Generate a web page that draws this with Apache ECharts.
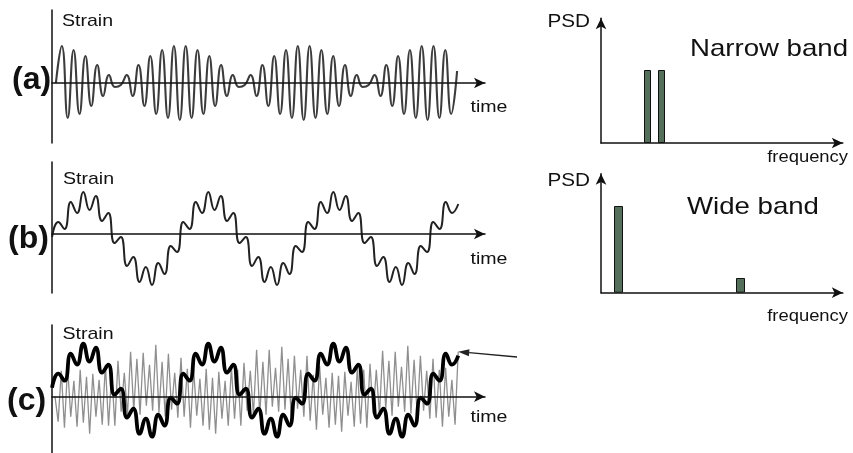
<!DOCTYPE html>
<html><head><meta charset="utf-8">
<script src="https://cdn.jsdelivr.net/npm/echarts@6/dist/echarts.min.js"></script>
<style>html,body{margin:0;padding:0;background:#fff}#c{width:853px;height:453px}</style>
</head><body><div id="c"></div><script>
// ---------- DATA ----------
// (a) narrow-band strain: successive extremes (arbitrary strain units)
const strainA = [0,37,-35,33,-31,27,-23,18,-13,8,-4,-2,8,-13,18,-23,27,-31,33,-35,37,-37,37,-35,33,-31,27,-23,18,-13,8,-4,-2,8,-13,18,-23,27,-31,33,-35,37,-37,37,-35,33,-31,27,-23,18,-13,8,-4,-2,8,-13,18,-23,27,-31,33,-35,37,-37,37,-35,33,-31,12];
// (b) wide-band strain
const strainB = [-3,12,5,32,21,42,24,38,13,21,-9,-3,-32,-23,-48,-33,-51,-29,-40,-12,
  -18,12,5,32,21,42,24,38,13,21,-9,-3,-32,-23,-48,-33,-51,-29,-40,-12,
  -18,12,5,32,21,42,24,38,13,21,-9,-3,-32,-23,-48,-33,-51,-29,-40,-12,
  -18,12,5,32,21,30];
// (c) bold slow component
const strainCSlow = [9,23,16,43,32,53,35,49,24,32,2,8,-21,-12,-37,-22,-40,-18,-29,-1,
  -7,23,16,43,32,53,35,49,24,32,2,8,-21,-12,-37,-22,-40,-18,-29,-1,
  -7,23,16,43,32,53,35,49,24,32,2,8,-21,-12,-37,-22,-40,-18,-29,-1,
  -7,23,16,43,32,41];
// (c) grey fast component
const strainCFast = [0,-25,26,-31,30,-20,16,-30,27,-26,20,-37,23,-20,17,-28,32,-29,25,-29,36,-15,24,-19,45,-14,38,-18,44,-9,32,-14,52,-16,35,-20,43,-13,24,-21,
  39,-20,28,-31,28,-19,18,-29,28,-33,19,-37,25,-22,16,-29,30,-22,27,-29,34,-14,26,-18,47,-18,35,-18,47,-10,29,-15,50,-13,38,-20,41,-12,27,-20,
  41,-24,22,-33,31,-18,19,-31,24,-28,21,-35,25,-19,15,-30,30,-27,27,-31,33,-17,27,-18,46,-12,36,-19,45,-10,30,-15,51,-17,37,-19,41,-14,26,-22,
  38,-21,27,-30,29,-20,17,-28,45];
// sampling of each trace along the time axis
const sampleStart = { a: 3.9, b: 0.05, cSlow: 0.05, cFast: 3 };
const sampleStep  = { a: 5.9, b: 6.25, cSlow: 6.25, cFast: 3.15 };
// PSD bars
const narrowFreq = [46.5, 60.5];
const narrowPSD  = [73, 73];
const wideFreq   = [17.5, 139.5];
const widePSD    = [86.7, 14.7];
// texts
const panelNames = ['(a)', '(b)', '(c)'];
const strainName = 'Strain';
const timeName = 'time';
const psdName = 'PSD';
const freqName = 'frequency';
const bandNames = ['Narrow band', 'Wide band'];

// ---------- CHART ----------
const chart = echarts.init(document.getElementById('c'), null, {renderer: 'canvas'});
const toPairs = (vals, key) => vals.map((v, i) => [sampleStart[key] + i * sampleStep[key], v]);
const FONT = '"Liberation Sans", Arial, sans-serif';
const axisColor = '#111';

const leftGrids = [
  {left: 52, top: 10, width: 433, height: 133},
  {left: 52, top: 162, width: 433, height: 131},
  {left: 52, top: 325, width: 433, height: 128}
];
const leftY = [[-60, 73], [-59, 72], [-56.3, 71.7]];
const rightGrids = [
  {left: 601, top: 18.2, width: 241.8, height: 124.8},
  {left: 601, top: 173.8, width: 241.8, height: 118.9}
];

const grids = leftGrids.concat(rightGrids);
const xAxes = [], yAxes = [];
leftGrids.forEach((g, i) => {
  xAxes.push({gridIndex: i, type: 'value', min: 0, max: 433,
    axisLine: {show: true, onZero: true, symbol: ['none', 'arrow'], symbolSize: [8, 11],
      lineStyle: {color: axisColor, width: 1.5}},
    axisTick: {show: false}, axisLabel: {show: false}, splitLine: {show: false}, z: 5});
  yAxes.push({gridIndex: i, type: 'value', min: leftY[i][0], max: leftY[i][1],
    axisLine: {show: true, onZero: true, lineStyle: {color: axisColor, width: 1.5}},
    axisTick: {show: false}, axisLabel: {show: false}, splitLine: {show: false}});
});
rightGrids.forEach((g, j) => {
  const i = j + 3;
  xAxes.push({gridIndex: i, type: 'value', min: 0, max: 241.8,
    axisLine: {show: true, onZero: true, symbol: ['none', 'arrow'], symbolSize: [8, 11],
      lineStyle: {color: axisColor, width: 1.5}},
    axisTick: {show: false}, axisLabel: {show: false}, splitLine: {show: false}});
  yAxes.push({gridIndex: i, type: 'value', min: 0, max: g.height,
    axisLine: {show: true, onZero: true, symbol: ['none', 'arrow'], symbolSize: [8, 11],
      lineStyle: {color: axisColor, width: 1.5}},
    axisTick: {show: false}, axisLabel: {show: false}, splitLine: {show: false}});
});

const barStyle = {color: '#55705a', borderColor: '#111', borderWidth: 1};
const series = [
  {type: 'line', xAxisIndex: 0, yAxisIndex: 0, data: toPairs(strainA, 'a'), smooth: 0.5,
   showSymbol: false, lineStyle: {color: '#3c3c3c', width: 2.1}, z: 2},
  {type: 'line', xAxisIndex: 1, yAxisIndex: 1, data: toPairs(strainB, 'b'), smooth: 0.5,
   showSymbol: false, lineStyle: {color: '#222', width: 2}, z: 2},
  {type: 'line', xAxisIndex: 2, yAxisIndex: 2, data: toPairs(strainCFast, 'cFast'), smooth: false,
   showSymbol: false, lineStyle: {color: '#8f8f8f', width: 1.3}, z: 2},
  {type: 'line', xAxisIndex: 2, yAxisIndex: 2, data: toPairs(strainCSlow, 'cSlow'), smooth: 0.5,
   showSymbol: false, lineStyle: {color: '#000', width: 3.8}, z: 3},
  {type: 'bar', xAxisIndex: 3, yAxisIndex: 3, data: narrowFreq.map((f, i) => [f, narrowPSD[i]]),
   barWidth: 7, itemStyle: barStyle},
  {type: 'bar', xAxisIndex: 4, yAxisIndex: 4, data: wideFreq.map((f, i) => [f, widePSD[i]]),
   barWidth: 9, itemStyle: barStyle}
];

chart.setOption({
  animation: false,
  backgroundColor: '#fff',
  grid: grids, xAxis: xAxes, yAxis: yAxes, series: series
});

// ---------- TEXT + ARROW ----------
function txt(text, x, y, size, opts) {
  opts = opts || {};
  return {type: 'text', x: x, y: y, scaleX: opts.scaleX == null ? 1.15 : opts.scaleX, z: 20,
    style: {text: text, fill: '#111', fontSize: size, fontFamily: FONT,
      fontWeight: opts.bold ? 'bold' : 'normal', align: opts.align || 'left', verticalAlign: 'middle'}};
}
const g = [
  txt(strainName, 62, 21, 17), txt(strainName, 63, 179.5, 17), txt(strainName, 62.5, 334.5, 17),
  txt(timeName, 470.5, 107, 17), txt(timeName, 470.5, 259.5, 17), txt(timeName, 470.5, 417.7, 17),
  txt(panelNames[0], 12, 80, 32, {bold: true, scaleX: 1}),
  txt(panelNames[1], 8, 239, 32, {bold: true, scaleX: 1}),
  txt(panelNames[2], 7, 401, 32, {bold: true, scaleX: 1}),
  txt(psdName, 590, 22, 18, {align: 'right'}), txt(psdName, 590, 181, 18, {align: 'right'}),
  txt(bandNames[0], 690, 49, 24), txt(bandNames[1], 687, 207, 24),
  txt(freqName, 848, 158, 16, {align: 'right'}), txt(freqName, 848, 317, 16, {align: 'right'})
];
// arrow pointing at the end of trace (c)
const lastIdx = strainCFast.length - 1;
const tip = chart.convertToPixel({gridIndex: 2},
  [sampleStart.cFast + lastIdx * sampleStep.cFast, strainCFast[lastIdx]]);
const tail = [517, 357];
const dx = tail[0] - tip[0], dy = tail[1] - tip[1], len = Math.hypot(dx, dy);
const ux = dx / len, uy = dy / len, hl = 11, hw = 3.5;
const base = [tip[0] + ux * hl, tip[1] + uy * hl];
g.push({type: 'line', z: 20, shape: {x1: base[0], y1: base[1], x2: tail[0], y2: tail[1]},
  style: {stroke: '#222', lineWidth: 1.3}});
g.push({type: 'polygon', z: 20, shape: {points: [tip,
  [base[0] - uy * hw, base[1] + ux * hw], [base[0] + uy * hw, base[1] - ux * hw]]},
  style: {fill: '#222'}});
chart.setOption({graphic: g});
</script></body></html>
